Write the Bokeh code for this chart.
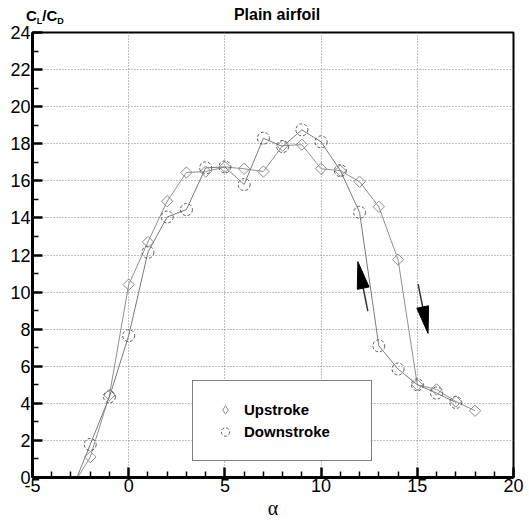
import math
from bokeh.plotting import figure
from bokeh.models import Range1d, FixedTicker, Legend, LegendItem, Title, Div
from bokeh.layouts import column
from bokeh.embed import file_html
from bokeh.resources import INLINE

# ---- data ----
alpha_up = [-3, -2, -1, 0, 1, 2, 3, 4, 5, 6, 7, 8, 9, 10, 11, 12, 13, 14, 15, 16, 17, 18]
cl_cd_up = [-0.6, 1.1, 4.45, 10.4, 12.7, 14.9, 16.45, 16.5, 16.75, 16.65, 16.5, 17.9,
            17.95, 16.65, 16.55, 15.95, 14.6, 11.75, 5.0, 4.75, 4.1, 3.6]
alpha_down = [-3, -2, -1, 0, 1, 2, 3, 4, 5, 6, 7, 8, 9, 10, 11, 12, 13, 14, 15, 16, 17]
cl_cd_down = [-0.8, 1.78, 4.35, 7.65, 12.15, 14.05, 14.45, 16.7, 16.75, 15.8, 18.3, 17.85,
              18.75, 18.1, 16.55, 14.3, 7.1, 5.85, 5.0, 4.55, 4.05]

x_major = [-5, 0, 5, 10, 15, 20]
x_minor = [v for v in range(-5, 21) if v % 5 != 0]
y_major = list(range(0, 25, 2))
y_minor = list(range(1, 24, 2))
x_grid = [0, 5, 10, 15]
y_grid = list(range(2, 24, 2))

# arrows (tail -> tip) in data coordinates
arrow_tail_x = [12.43, 15.04]
arrow_tail_y = [8.97, 10.43]
arrow_tip_x = [11.91, 15.56]
arrow_tip_y = [11.64, 7.77]

title_text = "Plain airfoil"
x_label = "α"
series_names = ["Upstroke", "Downstroke"]

# ---- layout ----
FW, FH = 481, 445
XMIN, XMAX, YMIN, YMAX = -5, 20, 0, 24
SX = FW / (XMAX - XMIN)
SY = FH / (YMAX - YMIN)

p = figure(frame_width=FW, frame_height=FH, output_backend="svg", toolbar_location=None,
           x_range=Range1d(XMIN, XMAX), y_range=Range1d(YMIN, YMAX),
           min_border_left=32, min_border_top=8, min_border_right=16, min_border_bottom=44,
           background_fill_color="white", border_fill_color="white")
p.title.visible = False

p.outline_line_color = "black"
p.outline_line_width = 2

for ax, maj, mnr in ((p.xaxis[0], x_major, x_minor), (p.yaxis[0], y_major, y_minor)):
    ax.ticker = FixedTicker(ticks=maj, minor_ticks=mnr)
    ax.axis_line_width = 3
    ax.axis_line_color = "black"
    ax.major_tick_in = 10
    ax.major_tick_out = 0
    ax.major_tick_line_width = 2.5
    ax.minor_tick_in = 6
    ax.minor_tick_out = 0
    ax.minor_tick_line_width = 1.5
    ax.major_label_text_font = "Liberation Sans"
    ax.major_label_text_font_size = "18px"
    ax.major_label_text_color = "black"
p.xaxis[0].major_label_standoff = 1
p.yaxis[0].major_label_standoff = 2
p.xaxis[0].major_label_overrides = {v: str(v) for v in x_major}

p.xgrid.ticker = FixedTicker(ticks=x_grid)
p.ygrid.ticker = FixedTicker(ticks=y_grid)
for g in (p.xgrid[0], p.ygrid[0]):
    g.grid_line_color = "#808080"
    g.grid_line_dash = "1 2"
    g.grid_line_width = 1

# series lines
p.line(alpha_up, cl_cd_up, line_color="#8f8f8f", line_width=1)
p.line(alpha_down, cl_cd_down, line_color="#7a7a7a", line_width=1)

# markers
p.scatter(alpha_up, cl_cd_up, marker="square", angle=math.pi / 4, size=8,
          fill_color=None, line_color="#8a8a8a", line_width=1)
r_down = p.scatter(alpha_down, cl_cd_down, marker="circle", size=12,
                   fill_color=None, line_color="#5a5a5a", line_width=1, line_dash="3 2")
# hidden diamond renderer of the same series, used only as the legend key
r_up_key = p.scatter(alpha_up, cl_cd_up, marker="diamond", fill_color=None,
                     line_color="#8a8a8a", line_width=1, visible=False)

# arrows
HEAD_L, HEAD_W = 27, 12
seg_x0, seg_y0, seg_x1, seg_y1, heads_x, heads_y = [], [], [], [], [], []
for tx, ty, hx, hy in zip(arrow_tail_x, arrow_tail_y, arrow_tip_x, arrow_tip_y):
    ux, uy = (hx - tx) * SX, (hy - ty) * SY
    n = math.hypot(ux, uy)
    ux, uy = ux / n, uy / n
    bx, by = hx - HEAD_L * ux / SX, hy - HEAD_L * uy / SY
    nx, ny = -uy, ux
    c1 = (bx + HEAD_W / 2 * nx / SX, by + HEAD_W / 2 * ny / SY)
    c2 = (bx - HEAD_W / 2 * nx / SX, by - HEAD_W / 2 * ny / SY)
    seg_x0.append(tx); seg_y0.append(ty); seg_x1.append(bx); seg_y1.append(by)
    heads_x.append([hx, c1[0], c2[0]])
    heads_y.append([hy, c1[1], c2[1]])
p.segment(seg_x0, seg_y0, seg_x1, seg_y1, line_color="#333333", line_width=1.5)
p.patches(heads_x, heads_y, fill_color="black", line_color="black", line_width=1)

# legend
legend = Legend(items=[LegendItem(label=series_names[0], renderers=[r_up_key]),
                       LegendItem(label=series_names[1], renderers=[r_down])],
                location=(160, 16), orientation="vertical",
                padding=18, spacing=1, margin=0,
                glyph_width=28, glyph_height=21, label_height=20,
                label_standoff=5, label_width=109,
                label_text_font="Liberation Sans", label_text_font_style="bold",
                label_text_font_size="15px", label_text_color="black",
                border_line_color="black", border_line_width=1,
                background_fill_color="white", background_fill_alpha=1.0)
p.add_layout(legend, "center")

# x-axis quantity label below the axis
p.add_layout(Title(text=x_label, align="center", text_font="Liberation Serif",
                   text_font_style="normal", text_font_size="20px", text_color="black",
                   standoff=0, offset=0), "below")

# header: y quantity (with subscripts) and title
sub = "font-size:9px;vertical-align:-3px;"
header_html = (
    '<div style="position:relative;width:529px;height:24px;'
    "font-family:'Liberation Sans',Arial,sans-serif;color:black;font-weight:bold;\">"
    '<span style="position:absolute;left:26px;top:8px;font-size:15px;line-height:15px;'
    'white-space:nowrap;">'
    f'C<span style="{sub}">L</span>/C<span style="{sub}">D</span></span>'
    '<span style="position:absolute;left:0px;width:554px;top:7px;font-size:16px;'
    f'line-height:16px;text-align:center;white-space:nowrap;">{title_text}</span>'
    '</div>'
)
header = Div(text=header_html, width=529, height=24, margin=0)

layout = column(header, p, spacing=0)
open("out.html", "w").write(file_html(layout, INLINE))
